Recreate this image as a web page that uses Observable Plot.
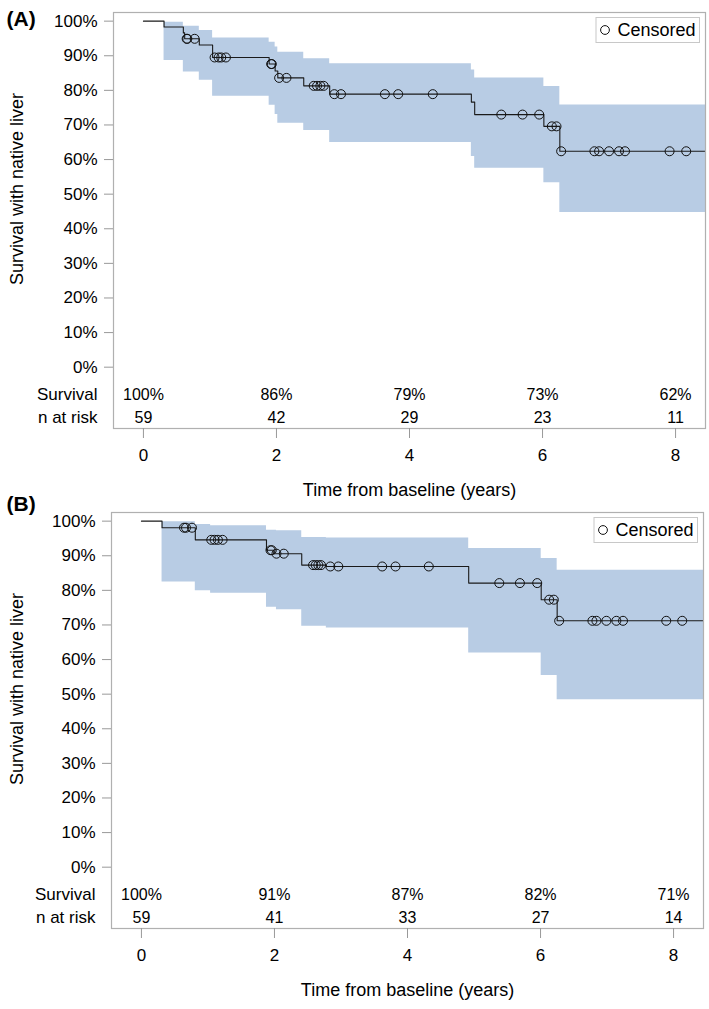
<!DOCTYPE html>
<html>
<head>
<meta charset="utf-8">
<script src="https://cdn.jsdelivr.net/npm/d3@7"></script>
<script src="https://cdn.jsdelivr.net/npm/@observablehq/plot@0.6"></script>
<style>
  body { margin: 0; background: #fff; font-family: "Liberation Sans", Arial, sans-serif; }
  svg { display: block; }
</style>
</head>
<body>
<div id="chart"></div>
<script>
// ---------- data ----------
const riskTimes = [0, 2, 4, 6, 8];

// Panel A
const aKmTime = [0, 0.31, 0.60, 0.62, 0.84, 1.04, 1.89, 1.98, 2.02, 2.41, 2.80, 4.93, 4.98, 6.02, 6.26];
const aKmSurv = [1.000, 0.983, 0.966, 0.949, 0.931, 0.895, 0.876, 0.856, 0.836, 0.813, 0.789, 0.766, 0.730, 0.696, 0.624];
const aCiTime = [0, 0.31, 0.60, 0.84, 1.04, 1.89, 1.98, 2.02, 2.41, 2.80, 4.93, 4.98, 6.02, 6.26];
const aCiUpper = [1.000, 0.997, 0.985, 0.973, 0.951, 0.939, 0.925, 0.910, 0.891, 0.877, 0.859, 0.836, 0.811, 0.758];
const aCiLower = [1.000, 0.886, 0.853, 0.829, 0.783, 0.757, 0.730, 0.705, 0.684, 0.649, 0.609, 0.575, 0.533, 0.447];
const aCensTime = [0.65, 0.66, 0.77, 1.07, 1.13, 1.17, 1.24, 1.92, 1.93, 2.04, 2.15, 2.56, 2.61, 2.66, 2.71, 2.87, 2.97, 3.63, 3.83, 4.35, 5.38, 5.70, 5.95, 6.14, 6.21, 6.28, 6.78, 6.85, 7.00, 7.15, 7.24, 7.91, 8.16];
const aCensSurv = [0.949, 0.949, 0.949, 0.895, 0.895, 0.895, 0.895, 0.876, 0.876, 0.836, 0.836, 0.813, 0.813, 0.813, 0.813, 0.789, 0.789, 0.789, 0.789, 0.789, 0.730, 0.730, 0.730, 0.696, 0.696, 0.624, 0.624, 0.624, 0.624, 0.624, 0.624, 0.624, 0.624];
const aSurvLabels = ["100%", "86%", "79%", "73%", "62%"];
const aAtRisk = [59, 42, 29, 23, 11];

// Panel B
const bKmTime = [0, 0.31, 0.81, 1.88, 1.99, 2.41, 2.78, 4.92, 6.01, 6.25];
const bKmSurv = [1.000, 0.981, 0.946, 0.916, 0.906, 0.873, 0.869, 0.821, 0.773, 0.712];
const bCiTime = [0, 0.31, 0.81, 1.04, 1.88, 2.03, 2.41, 2.78, 4.92, 6.01, 6.25];
const bCiUpper = [1.000, 0.998, 0.990, 0.987, 0.974, 0.972, 0.953, 0.951, 0.921, 0.892, 0.858];
const bCiLower = [1.000, 0.824, 0.799, 0.792, 0.751, 0.744, 0.696, 0.691, 0.619, 0.554, 0.484];
const bCensTime = [0.64, 0.67, 0.76, 1.05, 1.10, 1.15, 1.22, 1.94, 1.96, 2.03, 2.14, 2.58, 2.62, 2.66, 2.70, 2.84, 2.96, 3.62, 3.82, 4.32, 5.38, 5.69, 5.95, 6.13, 6.20, 6.28, 6.78, 6.84, 6.99, 7.14, 7.24, 7.89, 8.13];
const bCensSurv = [0.981, 0.981, 0.981, 0.946, 0.946, 0.946, 0.946, 0.916, 0.916, 0.906, 0.906, 0.873, 0.873, 0.873, 0.873, 0.869, 0.869, 0.869, 0.869, 0.869, 0.821, 0.821, 0.821, 0.773, 0.773, 0.712, 0.712, 0.712, 0.712, 0.712, 0.712, 0.712, 0.712];
const bSurvLabels = ["100%", "91%", "87%", "82%", "71%"];
const bAtRisk = [59, 41, 33, 27, 14];

const yTicks = [0, 0.1, 0.2, 0.3, 0.4, 0.5, 0.6, 0.7, 0.8, 0.9, 1.0];

// ---------- drawing ----------
const FONT = '"Liberation Sans", Arial, Helvetica, sans-serif';
const W = 709, H = 500, MT = 12, MB = 72;
const xMin = -0.45, xMax = 8.45;

function panel(p) {
  const line = p.kmT.map((t, i) => ({t, s: p.kmS[i]}));
  line.push({t: xMax, s: p.kmS[p.kmS.length - 1]});
  const band = p.ciT.map((t, i) => ({t, u: p.ciU[i], l: p.ciL[i]}));
  band.push({t: xMax, u: p.ciU[p.ciU.length - 1], l: p.ciL[p.ciL.length - 1]});
  const cens = p.cenT.map((t, i) => ({t, s: p.cenS[i]}));
  const risk = riskTimes.map((t, i) => ({t, s: p.survLab[i], n: String(p.nRisk[i])}));

  const svg = Plot.plot({
    width: W, height: H,
    marginLeft: p.ml, marginRight: p.mr, marginTop: MT, marginBottom: MB,
    x: {domain: [xMin, xMax]},
    y: {domain: [-0.1772, 1.025]},
    style: {fontFamily: FONT, fontSize: "16px", color: "black", background: "white", overflow: "visible"},
    marks: [
      Plot.areaY(band, {x: "t", y1: "l", y2: "u", curve: "step-after", fill: "#b8cce4"}),
      Plot.line(line, {x: "t", y: "s", curve: "step-after", stroke: "#1a1a1a", strokeWidth: 1.1}),
      Plot.dot(cens, {x: "t", y: "s", r: 4.5, stroke: "#111", fill: "none", strokeWidth: 1}),
      Plot.frame({stroke: "#b0b0b0", strokeWidth: 1.2}),
      Plot.axisY({ticks: yTicks, tickFormat: d3.format(".0%"), tickSize: 9, tickPadding: 7,
                  stroke: "#999", fontSize: 17, label: null}),
      Plot.axisX({ticks: riskTimes, tickFormat: d3.format("d"), tickSize: 10, tickPadding: 10,
                  stroke: "#999", fontSize: 17, label: null}),
      Plot.text(risk, {x: "t", text: "s", frameAnchor: "bottom", lineAnchor: "middle", dy: -34, fontSize: 16}),
      Plot.text(risk, {x: "t", text: "n", frameAnchor: "bottom", lineAnchor: "middle", dy: -11, fontSize: 16}),
      Plot.text(["Survival"], {frameAnchor: "bottom-left", lineAnchor: "middle", dx: -16, dy: -34, textAnchor: "end", fontSize: 17}),
      Plot.text(["n at risk"], {frameAnchor: "bottom-left", lineAnchor: "middle", dx: -16, dy: -11, textAnchor: "end", fontSize: 17}),
      Plot.text(["Time from baseline (years)"], {frameAnchor: "bottom", lineAnchor: "middle", dy: 62, fontSize: 18}),
      Plot.text([p.label], {frameAnchor: "top-left", lineAnchor: "middle", dx: -(p.ml - 6), dy: p.labelDy, textAnchor: "start", fontSize: 21, fontWeight: "bold"})
    ]
  });

  const right = W - p.mr;
  const g = d3.select(svg).append("g").attr("font-family", FONT).attr("text-anchor", "start");
  // y-axis title
  g.append("text")
    .attr("transform", `translate(17,${p.yLabelY}) rotate(-90)`)
    .attr("text-anchor", "middle").attr("dy", "0.35em")
    .attr("font-size", 18).attr("fill", "black")
    .text("Survival with native liver");
  // legend box (top-right inside frame)
  g.append("rect").attr("x", right - 109).attr("y", MT + 5.5).attr("width", 103.5).attr("height", 25)
    .attr("fill", "white").attr("stroke", "#c8c8c8");
  g.append("circle").attr("cx", right - 100).attr("cy", MT + 18).attr("r", 4.4)
    .attr("fill", "none").attr("stroke", "#111");
  g.append("text").attr("x", right - 87.5).attr("y", MT + 18).attr("dy", "0.35em")
    .attr("text-anchor", "start")
    .attr("font-size", 18).attr("fill", "black").text("Censored");
  return svg;
}

const chart = document.getElementById("chart");
chart.appendChild(panel({
  label: "(A)", labelDy: 7, ml: 113, mr: 4, yLabelY: 189,
  kmT: aKmTime, kmS: aKmSurv, ciT: aCiTime, ciU: aCiUpper, ciL: aCiLower,
  cenT: aCensTime, cenS: aCensSurv, survLab: aSurvLabels, nRisk: aAtRisk
}));
chart.appendChild(panel({
  label: "(B)", labelDy: -8, ml: 111, mr: 6, yLabelY: 189,
  kmT: bKmTime, kmS: bKmSurv, ciT: bCiTime, ciU: bCiUpper, ciL: bCiLower,
  cenT: bCensTime, cenS: bCensSurv, survLab: bSurvLabels, nRisk: bAtRisk
}));
</script>
</body>
</html>
